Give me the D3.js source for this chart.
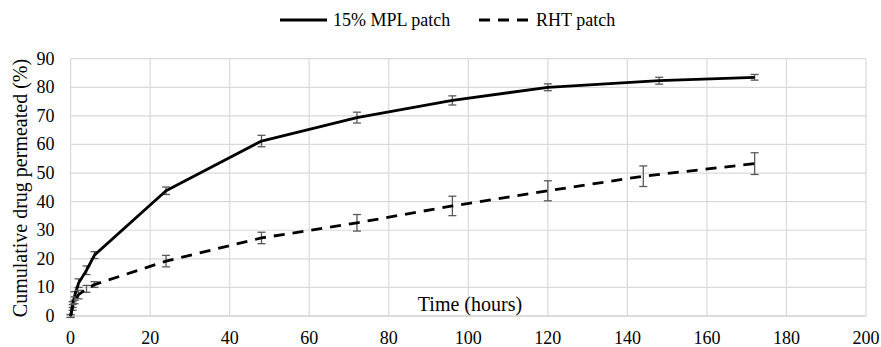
<!DOCTYPE html>
<html>
<head>
<meta charset="utf-8">
<script src="https://cdn.jsdelivr.net/npm/d3@7/dist/d3.min.js"></script>
<style>
  body { margin: 0; background: #fff; }
</style>
</head>
<body>
<div id="chart"></div>
<script>
// sampling times (hours)
var mplTime = [0, 0.5, 1, 2, 4, 6, 24, 48, 72, 96, 120, 148, 172];
var rhtTime = [0, 0.5, 1, 2, 4, 6, 24, 48, 72, 96, 120, 144, 172];
// cumulative % permeated and error (+/-)
var mplVal = [0, 4, 7, 11.5, 16, 21.3, 43.8, 61.2, 69.4, 75.4, 80, 82.3, 83.5];
var mplErr = [0.5, 1, 1.5, 1.5, 1.5, 1.2, 1.3, 2, 1.9, 1.6, 1.2, 1.2, 1];
var rhtVal = [0, 3, 5.5, 7.5, 9.5, 11, 19.2, 27.3, 32.6, 38.5, 43.8, 48.9, 53.3];
var rhtErr = [0.5, 1, 1.2, 1.5, 1.2, 1, 2, 2, 2.9, 3.4, 3.5, 3.6, 3.8];
var xTicks = [0, 20, 40, 60, 80, 100, 120, 140, 160, 180, 200];
var yTicks = [0, 10, 20, 30, 40, 50, 60, 70, 80, 90];

var FONT = "'Liberation Serif', 'Times New Roman', Times, serif";

function drawChart(id) {
    var W = 881, H = 347;
    var m = { l: 70.6, r: 866, t: 58.7, b: 316 };

    var svg = d3.select(id).append("svg")
        .attr("width", W).attr("height", H)
        .style("font-family", FONT);

    var x = d3.scaleLinear().domain([0, 200]).range([m.l, m.r]);
    var y = d3.scaleLinear().domain([0, 90]).range([m.b, m.t]);

    // grid
    svg.append("g").selectAll("line").data(yTicks.slice(1)).enter().append("line")
        .attr("x1", m.l).attr("x2", m.r)
        .attr("y1", function(d) { return y(d); }).attr("y2", function(d) { return y(d); })
        .style("stroke", "#d9d9d9").style("stroke-width", 1.2);
    svg.append("g").selectAll("line").data(xTicks).enter().append("line")
        .attr("x1", function(d) { return x(d); }).attr("x2", function(d) { return x(d); })
        .attr("y1", m.t).attr("y2", m.b)
        .style("stroke", "#d9d9d9").style("stroke-width", 1.2);
    // x axis line
    svg.append("line").attr("x1", m.l).attr("x2", m.r).attr("y1", m.b).attr("y2", m.b)
        .style("stroke", "#d0d0d0").style("stroke-width", 1.5);

    // tick labels
    svg.append("g").selectAll("text").data(xTicks).enter().append("text")
        .attr("x", function(d) { return x(d); }).attr("y", 344)
        .attr("text-anchor", "middle").style("font-size", "18px")
        .text(function(d) { return d; });
    svg.append("g").selectAll("text").data(yTicks).enter().append("text")
        .attr("x", 54.5).attr("y", function(d) { return y(d) + 6; })
        .attr("text-anchor", "end").style("font-size", "18px")
        .text(function(d) { return d; });

    // axis titles
    svg.append("text").attr("x", 470).attr("y", 311)
        .attr("text-anchor", "middle").style("font-size", "20px")
        .text("Time (hours)");
    svg.append("text")
        .attr("transform", "translate(27,188) rotate(-90)")
        .attr("text-anchor", "middle").style("font-size", "20px")
        .text("Cumulative drug permeated (%)");

    var series = [
        { t: mplTime, v: mplVal, e: mplErr, dash: null },
        { t: rhtTime, v: rhtVal, e: rhtErr, dash: "11,8" }
    ];

    var line = d3.line()
        .x(function(d) { return x(d[0]); })
        .y(function(d) { return y(d[1]); });

    series.forEach(function(s) {
        var pts = s.t.map(function(t, i) { return [t, s.v[i], s.e[i]]; });

        var eb = svg.append("g").selectAll("g").data(pts).enter().append("g")
            .style("stroke", "#595959").style("stroke-width", 1.3);
        eb.append("line")
            .attr("x1", function(d) { return x(d[0]); }).attr("x2", function(d) { return x(d[0]); })
            .attr("y1", function(d) { return y(d[1] - d[2]); }).attr("y2", function(d) { return y(d[1] + d[2]); });
        eb.append("line")
            .attr("x1", function(d) { return x(d[0]) - 4; }).attr("x2", function(d) { return x(d[0]) + 4; })
            .attr("y1", function(d) { return y(d[1] + d[2]); }).attr("y2", function(d) { return y(d[1] + d[2]); });
        eb.append("line")
            .attr("x1", function(d) { return x(d[0]) - 4; }).attr("x2", function(d) { return x(d[0]) + 4; })
            .attr("y1", function(d) { return y(d[1] - d[2]); }).attr("y2", function(d) { return y(d[1] - d[2]); });

        svg.append("path").datum(pts).attr("d", line)
            .style("fill", "none").style("stroke", "#000").style("stroke-width", 2.8)
            .style("stroke-linejoin", "round")
            .style("stroke-dasharray", s.dash);
    });

    // legend
    var leg = svg.append("g");
    leg.append("line").attr("x1", 280).attr("x2", 327).attr("y1", 20).attr("y2", 20)
        .style("stroke", "#000").style("stroke-width", 2.8);
    leg.append("text").attr("x", 333).attr("y", 26).style("font-size", "18px").text("15% MPL patch");
    leg.append("line").attr("x1", 479).attr("x2", 532).attr("y1", 20).attr("y2", 20)
        .style("stroke", "#000").style("stroke-width", 2.8).style("stroke-dasharray", "11,8");
    leg.append("text").attr("x", 536).attr("y", 26).style("font-size", "18px").text("RHT patch");
}

drawChart("#chart");
</script>
</body>
</html>
